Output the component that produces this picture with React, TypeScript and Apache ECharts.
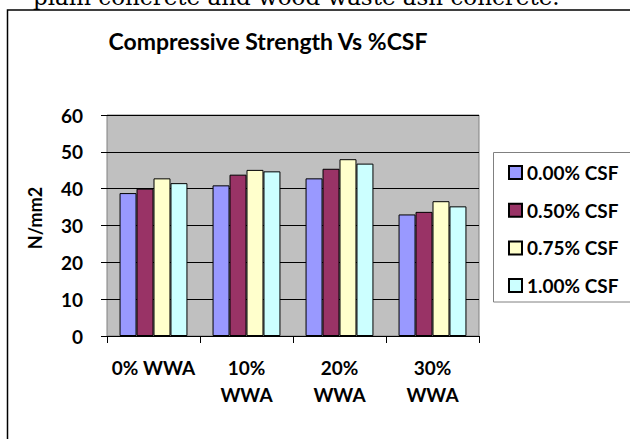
import React, { useEffect, useRef } from "react";
import * as echarts from "echarts";

const categories = ["0% WWA", "10%\nWWA", "20%\nWWA", "30%\nWWA"];
const seriesNames = ["0.00% CSF", "0.50% CSF", "0.75% CSF", "1.00% CSF"];
const csf000 = [38.8, 40.9, 42.8, 33.0];
const csf050 = [40.0, 43.8, 45.4, 33.7];
const csf075 = [42.8, 45.1, 48.0, 36.6];
const csf100 = [41.5, 44.7, 46.8, 35.2];
const seriesValues = [csf000, csf050, csf075, csf100];
const colors = ["#9999FF", "#993366", "#FFFFCC", "#CCFFFF"];
const titleText = "Compressive Strength Vs %CSF";
const yAxisTitle = "N/mm2";
const captionText = "plain concrete and wood waste ash concrete.";

const FONT = "Lato, 'Open Sans', sans-serif";

export default function App() {
  const ref = useRef<HTMLDivElement>(null);
  useEffect(() => {
    document.body.style.margin = "0";
    const chart = echarts.init(ref.current!, null, { renderer: "svg" });
    chart.setOption({
      animation: false,
      backgroundColor: "#fff",
      title: {
        text: titleText,
        left: 263,
        top: 24,
        textAlign: "center",
        textStyle: { fontFamily: FONT, fontWeight: "bold", fontSize: 23, color: "#000" },
      },
      legend: {
        orient: "vertical",
        left: 503,
        top: 158,
        itemWidth: 13,
        itemHeight: 13,
        itemGap: 18.7,
        icon: "rect",
        textStyle: { fontFamily: FONT, fontWeight: "bold", fontSize: 19, color: "#000" },
        data: seriesNames,
      },
      grid: {
        left: 107,
        right: 151,
        top: 115,
        bottom: 103,
        show: true,
        backgroundColor: "#C0C0C0",
        borderColor: "#808080",
        borderWidth: 1,
      },
      xAxis: {
        type: "category",
        data: categories,
        axisLine: { lineStyle: { color: "#000", width: 1 } },
        axisTick: { show: true, length: 7, lineStyle: { color: "#000" } },
        axisLabel: {
          fontFamily: FONT,
          fontWeight: "bold",
          fontSize: 19,
          color: "#000",
          margin: 18,
          lineHeight: 27,
          interval: 0,
        },
      },
      yAxis: {
        type: "value",
        min: 0,
        max: 60,
        interval: 10,
        axisLine: { show: false },
        axisTick: { show: true, length: 6, lineStyle: { color: "#000" } },
        splitLine: { show: true, lineStyle: { color: "#000", width: 1 } },
        axisLabel: {
          fontFamily: FONT,
          fontWeight: "bold",
          fontSize: 19,
          color: "#000",
          margin: 24,
        },
      },
      series: seriesNames.map((name, i) => ({
        name,
        type: "bar",
        data: seriesValues[i],
        barGap: "0%",
        barCategoryGap: "27%",
        itemStyle: { color: colors[i], borderColor: "#000", borderWidth: 1 },
      })),
      graphic: [
        {
          type: "text",
          left: 33,
          y: -3,
          style: {
            text: captionText,
            fontFamily: "'DejaVu Serif', serif",
            fontSize: 23,
            fill: "#000",
            verticalAlign: "middle",
          },
        },
        {
          type: "rect",
          shape: { x: 7.5, y: 10, width: 700, height: 500 },
          style: { fill: "none", stroke: "#000", lineWidth: 1.5 },
          z: -1,
        },
        {
          type: "rect",
          shape: { x: 493.5, y: 152.5, width: 200, height: 149.5 },
          style: { fill: "#fff", stroke: "#808080", lineWidth: 1 },
          z: -1,
        },
        {
          type: "text",
          x: 35,
          y: 218,
          rotation: Math.PI / 2,
          style: {
            text: yAxisTitle,
            fontFamily: FONT,
            fontWeight: "bold",
            fontSize: 18,
            fill: "#000",
            align: "center",
            verticalAlign: "middle",
          },
        },
      ],
    });
    return () => chart.dispose();
  }, []);
  return <div ref={ref} style={{ width: 630, height: 439 }} />;
}
